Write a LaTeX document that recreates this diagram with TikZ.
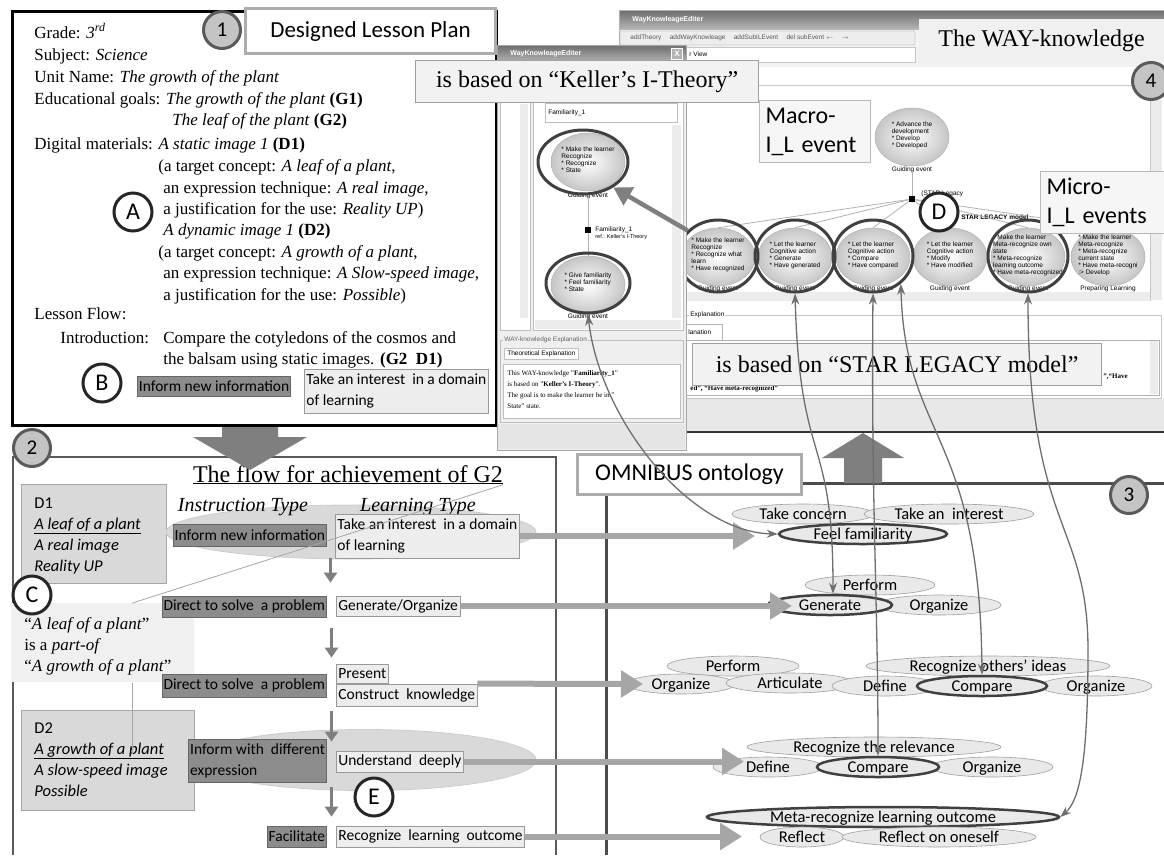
\documentclass[tikz,border=0pt]{standalone}
\usepackage{fontspec}
\setmainfont{Liberation Serif}
\setsansfont{Liberation Sans}
\newfontfamily\calibri{Carlito}
\usepackage{xcolor}
\usetikzlibrary{shapes,arrows,positioning,calc,arrows.meta}

\definecolor{instfill}{HTML}{8C8C8C}
\definecolor{learnfill}{HTML}{EDEDED}
\definecolor{flowfill}{HTML}{D9D9D9}
\definecolor{conceptfill}{HTML}{E9E9E9}
\definecolor{numfill}{HTML}{C4C4C4}
\definecolor{panelgray}{HTML}{5A5A5A}
\definecolor{arrowgray}{HTML}{A6A6A6}
\definecolor{darkarrow}{HTML}{7F7F7F}
\definecolor{curvegray}{HTML}{6E6E6E}
\definecolor{winfill}{HTML}{EFEFEF}

\newcommand{\uitext}[1]{\makebox[0pt]{\smash{\begin{tabular}[c]{@{}l@{}}#1\end{tabular}}}}

\begin{document}
\begin{tikzpicture}[x=1pt, y=-1pt, >=latex, thick,
    bodytext/.style={anchor=base west, inner sep=0, font=\fontsize{17}{17}\selectfont},
    numcirc/.style={circle, fill=numfill, draw=panelgray, line width=3pt, minimum size=37pt, inner sep=0, font=\calibri\fontsize{21}{21}\selectfont},
    letcirc/.style={circle, fill=white, draw=black!85, line width=3pt, minimum size=38pt, inner sep=0, font=\calibri\fontsize{24}{24}\selectfont},
    titlebox/.style={draw=gray!65, line width=3pt, fill=white, inner sep=0, font=\calibri\fontsize{23}{23}\selectfont},
    notebox/.style={draw=gray!75, line width=1.2pt, fill=gray!10, inner sep=0, font=\fontsize{24}{24}\selectfont},
    labelbox/.style={draw=gray!55, line width=1pt, fill=gray!7, inner xsep=6pt, inner ysep=2pt, align=left, font=\calibri\fontsize{24}{29}\selectfont},
    instbox/.style={draw=black!60, line width=0.8pt, fill=instfill, inner xsep=1.5pt, inner ysep=0, align=left, font=\calibri\fontsize{15.5}{21}\selectfont},
    learnbox/.style={draw=gray!80, line width=0.8pt, fill=learnfill, inner xsep=2pt, inner ysep=0, align=left, font=\calibri\fontsize{15.5}{21}\selectfont},
    flowell/.style={ellipse, fill=flowfill, draw=gray!40, inner sep=0},
    dbox/.style={rectangle, fill=flowfill, draw=gray!70, line width=0.8pt},
    dtext/.style={anchor=base west, inner sep=0, font=\calibri\fontsize{16.5}{16.5}\selectfont},
    concept/.style={ellipse, draw=gray!75, line width=0.6pt, fill=conceptfill, inner sep=0, text height=10pt, text depth=0pt, minimum height=20pt, font=\calibri\fontsize{16.5}{16.5}\selectfont},
    keycon/.style={concept, draw=black!75, line width=2.5pt},
    downarrow/.style={draw=darkarrow, line width=3pt, -{Triangle[width=13pt,length=10pt]}},
    bigarrow/.style={draw=arrowgray, line width=6pt, -{Triangle[width=26pt,length=22pt]}},
    linkcurve/.style={draw=curvegray, line width=1.3pt, {Stealth[length=11pt,width=8pt]}-{Stealth[length=11pt,width=8pt]}},
    uinode/.style={ellipse, draw=gray!60, line width=0.5pt, inner color=white, outer color=gray!45, minimum width=74pt, minimum height=58pt, inner sep=0, font=\sffamily\fontsize{6.5}{7}\selectfont},
    uitxt/.style={inner sep=0, font=\sffamily\fontsize{6.5}{7}\selectfont},
    ring/.style={ellipse, draw=black!75, line width=3pt, inner sep=0},
    panelline/.style={draw=panelgray, line width=2.5pt}]

\useasboundingbox (0,0) rectangle (1164,855);
\fill[white] (0,0) rectangle (1164,855);

% designed lesson plan
\draw[line width=3pt] (12,11) rectangle (496,425);
\node[bodytext] (grade) at (34,38) {Grade: \textit{3\textsuperscript{rd}}};
\node[bodytext] (subject) at (34,60) {Subject: \textit{Science}};
\node[bodytext] (unit) at (34,82) {Unit Name: \textit{The growth of the plant}};
\node[bodytext] (goals) at (34,104) {Educational goals: \textit{The growth of the plant} \textbf{(G1)}};
\node[bodytext] (goaltwo) at (172,125) {\textit{The leaf of the plant} \textbf{(G2)}};
\node[bodytext] (digital) at (34,149) {Digital materials: \textit{A static image 1} \textbf{(D1)}};
\node[bodytext] (dAa) at (158,171) {(a target concept: \textit{A leaf of a plant},};
\node[bodytext] (dAb) at (163,193) {an expression technique: \textit{A real image},};
\node[bodytext] (dAc) at (163,214) {a justification for the use: \textit{Reality UP})};
\node[bodytext] (dBo) at (163,235) {\textit{A dynamic image 1} \textbf{(D2)}};
\node[bodytext] (dBa) at (158,257) {(a target concept: \textit{A growth of a plant},};
\node[bodytext] (dBb) at (163,278) {an expression technique: \textit{A Slow-speed image},};
\node[bodytext] (dBc) at (163,300) {a justification for the use: \textit{Possible})};
\node[bodytext] (lflow) at (34,319) {Lesson Flow:};
\node[bodytext] (intro) at (60,343) {Introduction:};
\node[bodytext] (introa) at (163,343) {Compare the cotyledons of the cosmos and};
\node[bodytext] (introb) at (163,364) {the balsam using static images. \textbf{(G2~~D1)}};

\node[numcirc] (one) at (222,30) {1};
\node[titlebox, minimum width=250pt, minimum height=45pt, anchor=north west] (plan) at (244,7) {Designed Lesson Plan};
\node[letcirc] (A) at (133,212) {A};
\node[letcirc] (B) at (102,383) {B};
\node[instbox, minimum height=20pt, anchor=west] (inf0) at (137,386) {Inform new information};
\node[learnbox, minimum height=44pt, anchor=west] (int0) at (304,391) {Take an interest~ in a domain\\of learning};

% right editor window
\fill[white] (619,10) rectangle (1164,432);
\shade[top color=gray!85!black, bottom color=gray!55] (619,10) rectangle (1164,30);
\node[uitxt, text=white, font=\sffamily\bfseries\fontsize{7}{7}\selectfont, anchor=west] (rtitle) at (632,20) {WayKnowleageEditer};
\fill[gray!10] (619,30) rectangle (1164,67);
\draw[gray!40, line width=0.6pt, rounded corners=2pt, fill=gray!14] (620,31) rectangle (915,45);
\node[uitxt, text=gray!70!black, anchor=west] (tools) at (630,38) {addTheory \quad addWayKnowleage \quad addSubILEvent \quad del subEvent $\leftarrow$ \quad $\rightarrow$};
\draw[gray!45, line width=0.6pt, fill=white] (622,47) rectangle (915,62);
\node[uitxt, anchor=west] (view) at (689,54) {r View};
\draw[gray!45, line width=0.6pt] (619,85) -- (1150,85);
\draw[gray!45, line width=0.6pt] (619,85) rectangle (1150,300);
\fill[gray!15] (1151,100) rectangle (1162,300);
\fill[gray!15] (619,292) rectangle (1150,301);

\node[uinode] (adv) at (912,137) {\uitext{* Advance the\\development\\{*} Develop\\{*} Developed}};
\node[uitxt] (advlab) at (912,170) {Guiding event};
\node[fill=black, minimum size=6pt, inner sep=0] (jct) at (912,199) {};
\draw[gray!60, line width=0.8pt] (advlab.south) -- (jct.north);
\node[uitxt, anchor=west] (stara) at (921,194) {(STAR Legacy};
\node[uitxt, anchor=west, font=\sffamily\bfseries\fontsize{6.5}{7}\selectfont] (starb) at (961,217) {STAR LEGACY model};
\foreach \x/\txt/\lab [count=\i] in {
    718/{* Make the learner\\Recognize\\{*} Recognize what\\learn\\{*} Have recognized}/Guiding event,
    795/{* Let the learner\\Cognitive action\\{*} Generate\\{*} Have generated}/Guiding event,
    873/{* Let the learner\\Cognitive action\\{*} Compare\\{*} Have compared}/Guiding event,
    950/{* Let the learner\\Cognitive action\\{*} Modify\\{*} Have modified}/Guiding event,
    1028/{* Make the learner\\Meta-recognize own\\state\\{*} Meta-recognize\\learning outcome\\{*} Have meta-recognized}/Guiding event,
    1108/{* Make the learner\\Meta-recognize\\{*} Meta-recognize\\current state\\{*} Have meta-recogni\\:> Develop}/Preparing Learning} {
    \node[uinode] (ev\i) at (\x,257) {\uitext{\txt}};
    \node[uitxt] (evlab\i) at (\x,289) {\lab};
    \draw[gray!60, line width=0.8pt] (jct) -- (ev\i.north);
}
\foreach \x [count=\i] in {718,795,873,1028}
    \node[ring, minimum width=80pt, minimum height=72pt] (ring\i) at (\x,256) {};

\draw[gray!45, line width=0.6pt] (622,315) rectangle (1161,398);
\node[uitxt, fill=white, inner xsep=1pt, anchor=west] (expl) at (689,315) {Explanation};
\draw[gray!60, line width=0.6pt, fill=white] (686,324) rectangle (722,340);
\node[uitxt, anchor=west] (tab) at (688,332) {lanation};
\draw[gray!60, line width=0.6pt, fill=white] (686,340) rectangle (1159,395);
\fill[gray!15] (1150,341) rectangle (1158,394);
\node[uitxt, font=\bfseries\fontsize{7}{7}\selectfont, anchor=west] (exa) at (1103,377) {”,“Have};
\node[uitxt, font=\bfseries\fontsize{7}{7}\selectfont, anchor=west] (exb) at (690,389) {ed”, “Have meta-recognized”};
\fill[gray!18] (619,399) rectangle (1164,431);
\draw[gray!60, line width=0.6pt] (619,10) rectangle (1164,432);
\draw[black!80, line width=1.5pt] (619,432) -- (1164,432);

% left editor window
\fill[winfill] (497,45) rectangle (686,450);
\shade[top color=gray!85!black, bottom color=gray!55] (497,45) rectangle (686,63);
\node[uitxt, text=white, font=\sffamily\bfseries\fontsize{7}{7}\selectfont, anchor=west] (ltitle) at (510,54) {WayKnowleageEditer};
\node[draw=white, fill=gray!60, minimum size=11pt, inner sep=0, text=white, font=\sffamily\bfseries\fontsize{8}{8}\selectfont] (closex) at (677,54) {X};
\draw[gray!50, line width=0.6pt, fill=white] (500,102) rectangle (530,330);
\fill[gray!15] (520,104) rectangle (528,318);
\draw[gray!50, line width=0.6pt, fill=white] (533,102) rectangle (683,330);
\draw[gray!50, line width=0.6pt] (545,103) rectangle (677,122);
\node[uitxt, anchor=west] (fam) at (548,113) {Familiarity\_1};
\fill[gray!15] (672,125) rectangle (681,318);
\fill[gray!15] (535,320) rectangle (681,329);
\node[uinode] (lrec) at (588,162) {\uitext{* Make the learner\\Recognize\\{*} Recognize\\{*} State}};
\node[uitxt] (lreclab) at (588,196) {Guiding event};
\node[fill=black, minimum size=6pt, inner sep=0] (ljct) at (588,230) {};
\node[uinode] (lfam) at (588,285) {\uitext{* Give familiarity\\{*} Feel familiarity\\{*} State}};
\node[uitxt] (lfamlab) at (588,317) {Guiding event};
\node[uitxt, anchor=north west, align=left] (ljlab) at (595,226) {Familiarity\_1\\{\fontsize{5.5}{6}\selectfont ref.: Keller's I-Theory}};
\draw[gray!60, line width=0.8pt] (lreclab.south) -- (ljct) -- (lfam.north);
\node[ring, minimum width=90pt, minimum height=64pt] (lring1) at (583,162) {};
\node[ring, minimum width=84pt, minimum height=60pt] (lring2) at (588,283) {};
\draw[gray!50, line width=0.6pt] (500,340) rectangle (683,422);
\node[uitxt, fill=winfill, inner xsep=1pt, text=gray!80!black, anchor=west] (wexp) at (503,340) {WAY-knowledge Explanation};
\node[uitxt, draw=gray!50, fill=white, anchor=west, minimum height=11pt, inner xsep=3pt] (theo) at (504,354) {Theoretical Explanation};
\draw[gray!50, line width=0.6pt, fill=white] (503,364) rectangle (680,418);
\foreach \t [count=\i] in {This WAY-knowledge "\textbf{Familiarity\_1}", is based on "\textbf{Keller's I-Theory}"., The goal is to make the learner be in ", State" state.}
    \node[anchor=base west, inner sep=0, font=\fontsize{7}{7}\selectfont] (thl\i) at (507,{364+11*\i}) {\t};
\fill[gray!20] (498,424) rectangle (685,449);
\draw[gray!70, line width=0.8pt] (497,45) rectangle (686,450);

% overlays on the screenshots
\node[notebox, minimum width=343pt, minimum height=42pt, anchor=north west] (keller) at (415,60) {is based on “Keller’s I-Theory”};
\node[notebox, draw=none, fill=gray!12, minimum width=246pt, minimum height=45pt, anchor=north west] (way) at (918,18) {The WAY-knowledge};
\node[labelbox, text width=99pt, minimum height=62pt, anchor=north west] (macro) at (759,100) {Macro-\\I\_L event};
\node[labelbox, text width=112pt, minimum height=62pt, anchor=north west] (micro) at (1040,171) {Micro-\\I\_L events};
\node[notebox, minimum width=409pt, minimum height=42pt, anchor=north west] (star) at (692,343) {is based on “STAR LEGACY model”};
\node[letcirc] (D) at (939,212) {D};
\node[numcirc] (four) at (1151,81) {4};
\draw[draw=darkarrow, line width=4.5pt, -{Triangle[width=20pt,length=18pt]}] (ring1.140) -- (lring1.-40);

% flow for achievement
\draw[panelline] (13,855) -- (13,457) -- (556,457) -- (556,855);
\node[numcirc] (two) at (32,448) {2};
\node[anchor=base, inner sep=0, font=\fontsize{24}{24}\selectfont] (flowtitle) at (348,482) {\underline{The flow for achievement of G2}};
\node[dbox, minimum width=145pt, minimum height=99pt, anchor=north west] (Done) at (21,484) {};
\foreach \t [count=\i] in {D1, \underline{\textit{A leaf of a plant}}, \textit{A real image}, \textit{Reality UP}}
    \node[dtext] (donel\i) at (34,{487+21*\i}) {\t};
\node[flowell, minimum width=370pt, minimum height=54pt] (fone) at (351,532) {};
\node[anchor=base, inner sep=0, font=\itshape\fontsize{20}{20}\selectfont] (itype) at (243,511) {Instruction Type};
\node[anchor=base, inner sep=0, font=\itshape\fontsize{20}{20}\selectfont] (ltype) at (418,511) {Learning Type};
\node[instbox, minimum height=22pt, anchor=east] (inf1) at (327,535) {Inform new information};
\node[learnbox, minimum height=44pt, anchor=west] (int1) at (335,536) {Take an interest~ in a domain\\of learning};

\node[fill=gray!12, minimum width=183pt, minimum height=79pt, anchor=north west, inner sep=0] (Cbox) at (11,603) {};
\foreach \t [count=\i] in {“\textit{A leaf of a plant}”, is a \textit{part-of}, “\textit{A growth of a plant}”}
    \node[anchor=base west, inner sep=0, font=\fontsize{17}{17}\selectfont] (cl\i) at (24,{608+21*\i}) {\t};
\draw[gray!70, line width=0.8pt] ([xshift=29.5pt]Cbox.north) -- (flowtitle.south east);

\node[instbox, minimum height=21pt, anchor=east] (dir2) at (327,606.5) {Direct to solve~ a problem};
\node[learnbox, minimum height=20pt, anchor=west] (int2) at (336,606) {Generate/Organize};
\node[instbox, minimum height=23pt, anchor=east] (dir3) at (327,685.5) {Direct to solve~ a problem};
\node[learnbox, minimum height=19pt, anchor=west] (pres3) at (336,673.5) {Present};
\node[learnbox, minimum height=22pt, anchor=west] (int3) at (336,695) {Construct~ knowledge};

\node[dbox, minimum width=173pt, minimum height=100pt, anchor=north west] (Dtwo) at (21,710) {};
\foreach \t [count=\i] in {D2, \underline{\textit{A growth of a plant}}, \textit{A slow-speed image}, \textit{Possible}}
    \node[dtext] (dtwol\i) at (34,{712+21*\i}) {\t};
\draw[gray!70, line width=0.8pt] ([xshift=29.5pt]Cbox.south) -- ([xshift=29.5pt]Cbox.south |- dtwol2.base);
\node[flowell, minimum width=342pt, minimum height=61pt] (ftwo) at (365,760) {};
\node[instbox, minimum height=43pt, anchor=east] (inf4) at (327,760.5) {Inform with~ different\\expression};
\node[learnbox, minimum height=21pt, anchor=west] (int4) at (336,761.5) {Understand~ deeply};
\node[instbox, minimum height=21pt, anchor=east] (fac5) at (327,836.5) {Facilitate};
\node[learnbox, minimum height=21pt, anchor=west] (int5) at (336,836.5) {Recognize~ learning~ outcome};
\node[letcirc] (C) at (32,595) {C};
\node[letcirc] (E) at (374,797) {E};

\foreach \u/\v/\s/\e in {int1/int2/0/13, int2/pres3/12/6, int3/int4/5/9, int4/int5/15/9}
    \draw[downarrow, shorten <=\s pt, shorten >=\e pt] ([xshift=-4.5pt]\u.south west) -- ([xshift=-4.5pt]\u.south west |- \v.north);

% OMNIBUS ontology
\draw[panelline, draw=black!70, line width=3pt] (606,855) -- (606,483) -- (1164,483);
\node[numcirc] (three) at (1129,495) {3};

\node[concept, minimum width=142pt] (concern) at (803,514) {Take concern};
\node[concept, minimum width=170pt] (interest) at (949,514) {Take an~ interest};
\node[keycon, minimum width=168pt] (feel) at (863,534) {Feel familiarity};

\node[concept, minimum width=130pt] (perform2) at (870,585) {Perform};
\node[concept, minimum width=124pt] (organize2) at (939,605) {Organize};
\node[keycon, minimum width=124pt] (generate) at (830,605) {Generate};

\node[concept, minimum width=132pt] (perform3) at (733,666) {Perform};
\node[concept, minimum width=244pt] (others) at (988,666) {Recognize others’ ideas};
\node[concept, minimum width=108pt] (organize3a) at (681,684) {Organize};
\node[concept, minimum width=128pt] (articulate) at (790,683) {Articulate};
\node[concept, minimum width=106pt] (define3) at (885,686) {Define};
\node[concept, minimum width=112pt] (organize3b) at (1096,686) {Organize};
\node[keycon, minimum width=130pt] (compare3) at (982,686) {Compare};

\node[concept, minimum width=254pt] (relevance) at (874,747) {Recognize the relevance};
\node[concept, minimum width=110pt] (define4) at (768,767) {Define};
\node[concept, minimum width=122pt] (organize4) at (992,767) {Organize};
\node[keycon, minimum width=122pt] (compare4) at (878,767) {Compare};

\node[keycon, minimum width=352pt] (meta) at (883,817) {Meta-recognize learning outcome};
\node[concept, minimum width=84pt] (reflect) at (802,837) {Reflect};
\node[concept, minimum width=194pt] (oneself) at (939,837) {Reflect on oneself};

\coordinate (tip1) at (755,536);
\coordinate (tip2) at (792,606);
\coordinate (tip3) at (643,684);
\coordinate (tip4) at (744,761.5);
\coordinate (tip5) at (742,836.5);
\draw[bigarrow] (int1.east) -- (tip1);
\draw[bigarrow] (int2.east) -- (tip2);
\draw[bigarrow] (int3.north east) -- (tip3);
\draw[bigarrow] (int4.east) -- (tip4);
\draw[bigarrow] (int5.east) -- (tip5);

\fill[darkarrow] (844,483) -- (882,483) -- (882,458) -- (904,458) -- (863,433) -- (822,458) -- (844,458) -- cycle;
\node[titlebox, minimum width=224pt, minimum height=40pt, anchor=north west, font=\calibri\fontsize{24}{24}\selectfont] (omni) at (576,453) {OMNIBUS ontology};

\fill[darkarrow] (222,427) -- (278,427) -- (278,437) -- (307,437) -- (250,470) -- (193,437) -- (222,437) -- cycle;

% links between the WAY-knowledge and the ontology
\draw[linkcurve] (lring2.south) .. controls (600,420) and (690,532) .. (feel.west);
\draw[linkcurve] (ring2.south) .. controls (800,470) and (833,430) .. ([xshift=3pt]generate.north);
\draw[linkcurve] (ring3.south) .. controls (871,500) and (878,600) .. (compare4.north);
\draw[linkcurve] (ring3.-45) .. controls (905,440) and (980,430) .. (compare3.north);
\draw[linkcurve] (ring4.south) .. controls (1028,530) and (1088,520) .. (1088,650) .. controls (1088,760) and (1080,800) .. (meta.east);
\end{tikzpicture}
\end{document}
